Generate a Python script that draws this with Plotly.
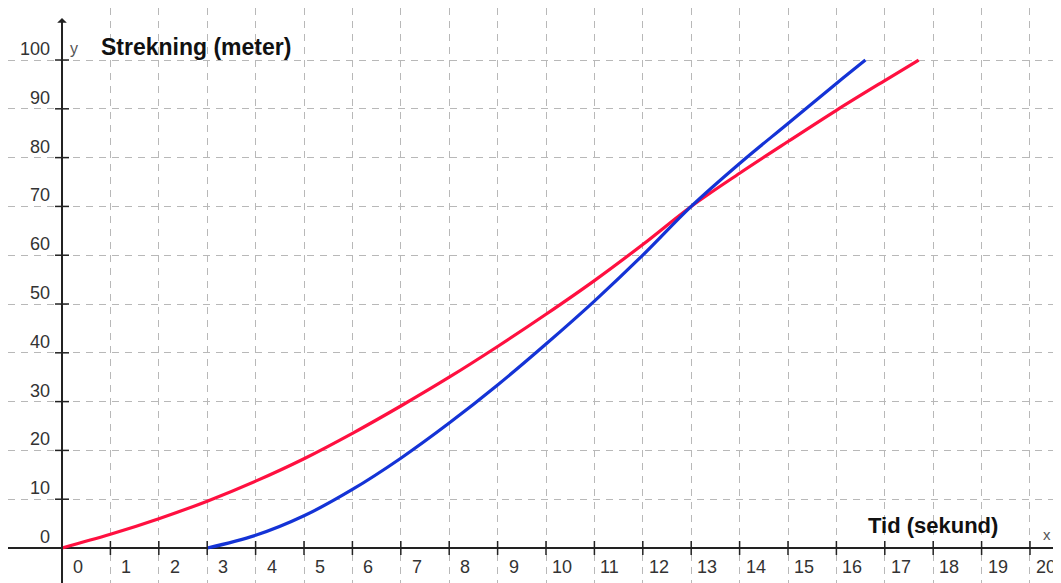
import plotly.graph_objects as go

# Data
red_t = [0, 1, 2, 3, 4, 5, 6, 7, 8, 9, 10, 11, 12, 13, 14, 15, 16, 17, 17.7]
red_s = [0, 2.8, 6.0, 9.6, 13.7, 18.3, 23.5, 29.1, 35.0, 41.3, 47.9, 54.8, 62.2, 70.0, 76.8, 83.3, 89.7, 95.8, 100]

blue_t = [3, 4, 5, 6, 7, 8, 9, 10, 11, 12, 13, 14, 15, 16, 16.6]
blue_s = [0, 2.6, 6.6, 12.0, 18.4, 25.6, 33.4, 41.8, 50.6, 60.0, 70.0, 78.8, 87.0, 95.2, 100]

x_ticks = list(range(0, 21))
y_ticks = list(range(0, 101, 10))
x_tick_labels = [str(v) for v in x_ticks]
y_tick_labels = [str(v) for v in y_ticks]

x_title = "Tid (sekund)"
y_title = "Strekning (meter)"

# page body has an 8px margin; ranges compensate so the axes land where the reference has them
X_RANGE = [-1.116, 20.806]
Y_RANGE = [-8.81, 110.66]

FONT = "Liberation Sans, Arial, sans-serif"

fig = go.Figure()

fig.add_trace(go.Scatter(x=red_t, y=red_s, mode="lines",
                         line=dict(color="#ff1040", width=3.2, shape="spline"),
                         hoverinfo="skip", showlegend=False))
fig.add_trace(go.Scatter(x=blue_t, y=blue_s, mode="lines",
                         line=dict(color="#1433d6", width=3.2, shape="spline"),
                         hoverinfo="skip", showlegend=False))

# tick marks on axes
fig.add_trace(go.Scatter(x=x_ticks[1:], y=[0] * (len(x_ticks) - 1), mode="markers",
                         marker=dict(symbol="line-ns", size=10, line=dict(color="#222", width=1.5)),
                         hoverinfo="skip", showlegend=False))
fig.add_trace(go.Scatter(x=[0] * (len(y_ticks) - 1), y=y_ticks[1:], mode="markers",
                         marker=dict(symbol="line-ew", size=10, line=dict(color="#222", width=1.5)),
                         hoverinfo="skip", showlegend=False))

annotations = []
for v, lab in zip(x_ticks, x_tick_labels):
    annotations.append(dict(x=v, y=0, xref="x", yref="y", text=lab, showarrow=False,
                            xanchor="left", yanchor="middle",
                            xshift=(9 if len(lab) == 1 else 4), yshift=-19,
                            font=dict(family=FONT, size=18, color="#333")))
for v, lab in zip(y_ticks, y_tick_labels):
    annotations.append(dict(x=0, y=v, xref="x", yref="y", text=lab, showarrow=False,
                            xanchor="right", yanchor="middle", xshift=-10, yshift=11,
                            font=dict(family=FONT, size=18, color="#333")))

# y axis arrow
annotations.append(dict(x=0, y=108.6, ax=0, ay=Y_RANGE[0], xref="x", yref="y",
                        axref="x", ayref="y", text="", showarrow=True,
                        arrowhead=1, arrowsize=0.8, arrowwidth=2, arrowcolor="#222"))

annotations.append(dict(x=0, y=100, xref="x", yref="y", text="y", showarrow=False,
                        xanchor="center", yanchor="middle", xshift=12, yshift=12,
                        font=dict(family=FONT, size=16, color="#555")))
annotations.append(dict(x=0, y=100, xref="x", yref="y", text="<b>" + y_title + "</b>",
                        showarrow=False, xanchor="left", yanchor="middle", xshift=37, yshift=13,
                        font=dict(family=FONT, size=23, color="#111")))
annotations.append(dict(x=20, y=0, xref="x", yref="y", text="<b>" + x_title + "</b>",
                        showarrow=False, xanchor="right", yanchor="middle", xshift=-30, yshift=23,
                        font=dict(family=FONT, size=22, color="#111")))
annotations.append(dict(x=20, y=0, xref="x", yref="y", text="x", showarrow=False,
                        xanchor="center", yanchor="middle", xshift=17, yshift=14,
                        font=dict(family=FONT, size=15, color="#555")))

fig.update_layout(
    width=1061, height=583, autosize=False,
    margin=dict(l=0, r=0, t=0, b=0),
    paper_bgcolor="white", plot_bgcolor="white",
    annotations=annotations,
    xaxis=dict(range=X_RANGE, tickmode="array", tickvals=x_ticks[1:], showticklabels=False,
               showgrid=True, gridcolor="#b8b8b8", gridwidth=1, griddash="7px,6px",
               zeroline=False, showline=False, fixedrange=True),
    yaxis=dict(range=Y_RANGE, tickmode="array", tickvals=y_ticks[1:], showticklabels=False,
               showgrid=True, gridcolor="#b8b8b8", gridwidth=1, griddash="7px,6px",
               zeroline=True, zerolinecolor="#222", zerolinewidth=2,
               showline=False, fixedrange=True),
)

fig.write_html("out.html")
